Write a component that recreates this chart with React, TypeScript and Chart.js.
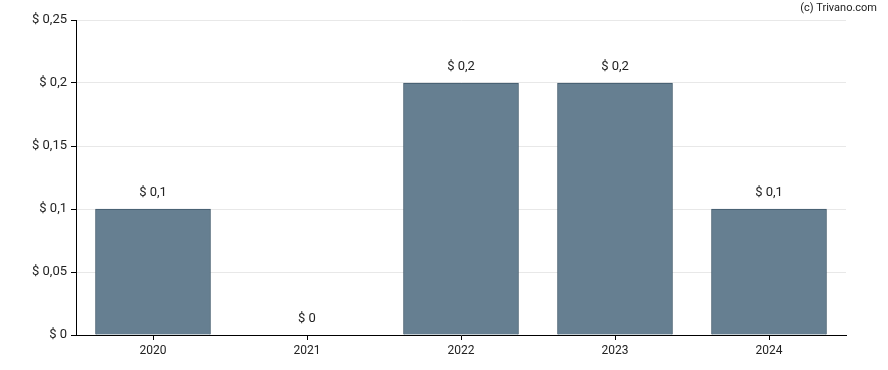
import React, { useEffect, useRef } from "react";
import { Chart, registerables } from "chart.js";

Chart.register(...registerables);

const years = ["2020", "2021", "2022", "2023", "2024"];
const dividends = [0.1, 0, 0.2, 0.2, 0.1];
const yTicks = [0, 0.05, 0.1, 0.15, 0.2, 0.25];

const fmt = (v: number) => "$ " + String(Math.round(v * 1000) / 1000).replace(".", ",");

const labelPlugin = {
  id: "barLabels",
  afterDatasetsDraw(chart: any) {
    const ctx = chart.ctx;
    const meta = chart.getDatasetMeta(0);
    ctx.save();
    ctx.font = "13px Roboto";
    ctx.fillStyle = "#222";
    ctx.textAlign = "center";
    ctx.textBaseline = "bottom";
    meta.data.forEach((el: any, i: number) => {
      ctx.fillText(fmt(dividends[i]), el.x, el.y - 10);
    });
    ctx.font = "11px Roboto";
    ctx.textAlign = "right";
    ctx.textBaseline = "middle";
    ctx.fillText("(c) Trivano.com", 877, 8);
    ctx.restore();
  },
};

export default function App() {
  const ref = useRef<HTMLCanvasElement>(null);
  useEffect(() => {
    const chart = new Chart(ref.current!, {
      type: "bar",
      data: {
        labels: years,
        datasets: [
          {
            data: dividends,
            backgroundColor: "#667f91",
            borderColor: "#41596b",
            borderWidth: 1,
            barThickness: 115,
          },
        ],
      },
      options: {
        animation: false,
        responsive: false,
        maintainAspectRatio: false,
        layout: { padding: { left: 0, right: 42, top: 20, bottom: 0 } },
        plugins: { legend: { display: false }, tooltip: { enabled: false } },
        scales: {
          x: {
            border: { color: "#000", width: 1 },
            grid: { drawOnChartArea: false, tickColor: "#000", tickLength: 5, offset: false },
            ticks: { color: "#222", font: { family: "Roboto", size: 12 }, padding: 4 },
            afterFit: (s: any) => { s.height = 35; },
          },
          y: {
            min: 0,
            max: 0.25,
            border: { color: "#000", width: 1 },
            grid: { color: "#e8e8e8", tickColor: "#000", tickLength: 5 },
            afterBuildTicks: (s: any) => { s.ticks = yTicks.map((v) => ({ value: v })); },
            ticks: {
              color: "#222",
              font: { family: "Roboto", size: 13 },
              padding: 4,
              callback: (v: any) => fmt(Number(v)),
            },
            afterFit: (s: any) => { s.width = 76; },
          },
        },
      },
      plugins: [labelPlugin],
    });
    return () => chart.destroy();
  }, []);
  return (
    <div style={{ position: "fixed", left: 0, top: 0, width: 888, height: 370, background: "#fff" }}>
      <canvas ref={ref} width={888} height={370} />
    </div>
  );
}
